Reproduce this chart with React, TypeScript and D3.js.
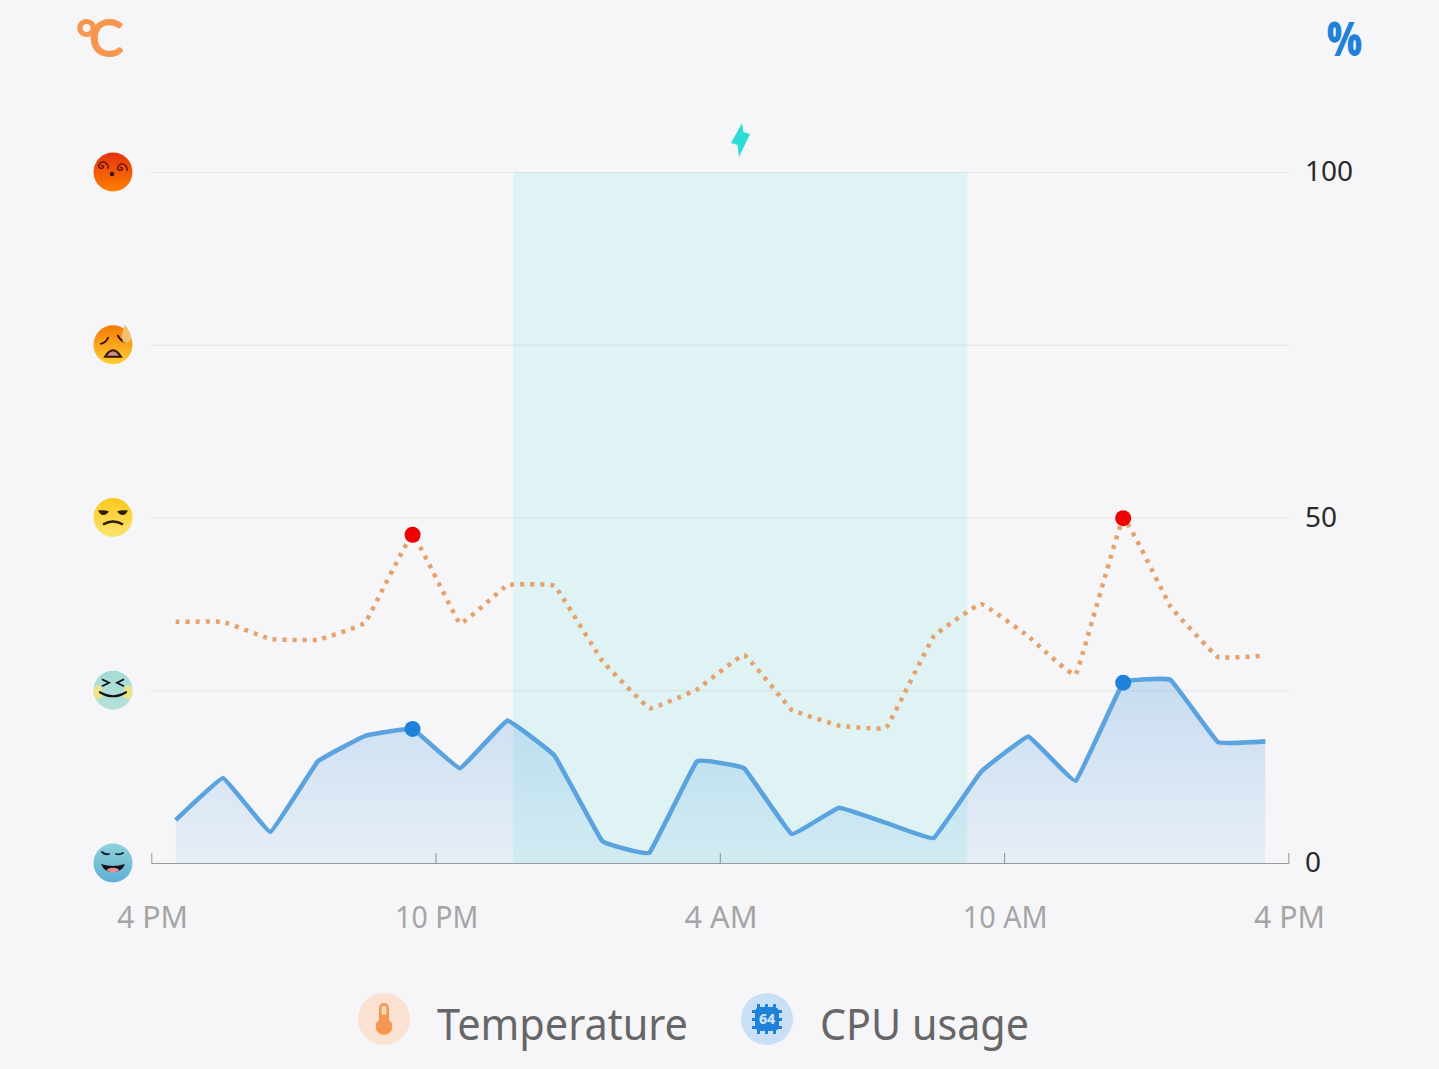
import React from "react";
import * as d3 from "d3";

const hours = [0.5,1.5,2.5,3.5,4.5,5.5,6.5,7.5,8.5,9.5,10.5,11.5,12.5,13.5,14.5,15.5,16.5,17.5,18.5,19.5,20.5,21.5,22.5,23.5];
const cpuUsage = [6.2,12.3,4.5,14.7,18.4,19.4,13.7,20.6,15.5,3.2,1.5,14.7,13.7,4.2,8.0,5.8,3.6,13.2,18.3,11.9,26.1,26.5,17.5,17.6];
const temperature = [34.9,34.9,32.4,32.3,34.8,47.5,34.7,40.2,40.1,29.3,22.4,25.1,30.1,22.2,19.9,19.6,32.8,37.5,32.8,27.3,49.9,37.1,29.8,30.0];
const markerIndices = [5, 20];
const gridValues = [25, 50, 75, 100];
const tempLevels = [0, 25, 50, 75, 100];
const xTickHours = [0, 6, 12, 18, 24];
const xTickLabels = ["4 PM", "10 PM", "4 AM", "10 AM", "4 PM"];
const rightTicks = [0, 50, 100];
const chargeWindow = [7.63, 17.21];
const legendLabels = ["Temperature", "CPU usage"];

const FONT = "'Noto Sans', sans-serif";
const BLUE = "#1f82d8";
const ORANGE = "#f6964f";

const x = d3.scaleLinear().domain([0, 24]).range([152, 1289]);
const y = d3.scaleLinear().domain([0, 100]).range([863, 172]);
const curve = d3.curveCardinal.tension(0.8);
const linePath = d3.line<number>().x((_, i) => x(hours[i])).y((d) => y(d)).curve(curve);
const areaPath = d3.area<number>().x((_, i) => x(hours[i])).y0(y(0)).y1((d) => y(d)).curve(curve);

const spiral = (a: number, b: number) =>
  `M${a} ${b} a1.5 1.5 0 0 1 2.5 1.5 a3.2 3.2 0 0 1 -5 -1 a4.6 4.6 0 0 1 5.5 -4.5 a5.8 5.8 0 0 1 4 7`;

function Emoji({ level, idx }: { level: number; idx: number }) {
  const cy = y(level);
  const cx = 113;
  const stroke = "#3a1206";
  const face = (
    [
      <g key="0">
        <path d={`M${cx - 11} ${cy - 11} q3 3 7 2 M${cx + 3} ${cy - 9} q4 1 7 -1`} stroke="#14202a" strokeWidth={1.8} fill="none" strokeLinecap="round" />
        <path d={`M${cx - 12} ${cy + 1} Q${cx} ${cy + 5} ${cx + 12} ${cy + 1} Q${cx + 9} ${cy + 9} ${cx} ${cy + 9} Q${cx - 9} ${cy + 9} ${cx - 12} ${cy + 1}Z`} fill="#101418" />
        <ellipse cx={cx} cy={cy + 7} rx={6} ry={2.2} fill="#e88f8f" />
      </g>,
      <g key="1">
        <path d={`M${cx - 11} ${cy - 11} l7 3.5 l-7 3.5 M${cx + 11} ${cy - 11} l-7 3.5 l7 3.5`} stroke="#111" strokeWidth={1.8} fill="none" />
        <path d={`M${cx - 13} ${cy + 2} Q${cx} ${cy + 10} ${cx + 13} ${cy + 2}`} stroke="#111" strokeWidth={2.2} fill="none" strokeLinecap="round" />
      </g>,
      <g key="2">
        <path d={`M${cx - 15} ${cy - 7} q7 -1 11 1 q-5 6 -9 2Z M${cx + 15} ${cy - 7} q-7 -1 -11 1 q5 6 9 2Z`} fill="#2a1c08" />
        <path d={`M${cx - 10} ${cy + 7} Q${cx} ${cy + 1} ${cx + 10} ${cy + 7}`} stroke="#2a1c08" strokeWidth={2.5} fill="none" />
      </g>,
      <g key="3">
        <path d={`M${cx - 12} ${cy - 1} q5 -1 7 -6 M${cx + 5} ${cy - 9} q3 6 8 6`} stroke={stroke} strokeWidth={2} fill="none" strokeLinecap="round" />
        <path d={`M${cx - 8} ${cy + 12} Q${cx} ${cy - 1} ${cx + 8} ${cy + 12}Z`} fill="#c79088" stroke={stroke} strokeWidth={2} />
        <path d={`M${cx + 12} ${cy - 20} q7 9 6 15 q-3 5 -8 2 q-3 -6 2 -17Z`} fill="#f2c06e" />
      </g>,
      <g key="4">
        <path d={spiral(cx - 12, cy - 6) + spiral(cx + 7, cy - 4)} stroke="#5c0c14" strokeWidth={1.3} fill="none" />
        <circle cx={cx - 1} cy={cy + 2} r={2.2} fill="#3a0808" />
      </g>,
    ] as React.ReactNode[]
  )[idx];
  return (
    <g>
      <circle cx={cx} cy={cy} r={19.5} fill={`url(#emoji${idx})`} />
      {idx === 1 && (
        <g fill="#f7e67e" opacity={0.85}>
          <ellipse cx={cx - 15} cy={cy + 2} rx={4.5} ry={7} />
          <ellipse cx={cx + 15} cy={cy + 2} rx={4.5} ry={7} />
        </g>
      )}
      {face}
    </g>
  );
}

const emojiStops: [string, string][] = [
  ["#8ed2d8", "#5eaed6"],
  ["#a4dcd8", "#b6e0d8"],
  ["#fbc81c", "#fbe470"],
  ["#f67a08", "#fdcf30"],
  ["#e4320e", "#ff8000"],
];

export default function App() {
  return (
    <svg width={1439} height={1069} style={{ position: "absolute", left: 0, top: 0, display: "block" }} fontFamily={FONT}>
      <defs>
        <linearGradient id="cpuFill" gradientUnits="userSpaceOnUse" x1={0} x2={0} y1={y(27)} y2={y(0)}>
          <stop offset="0" stopColor={BLUE} stopOpacity={0.22} />
          <stop offset="1" stopColor={BLUE} stopOpacity={0.07} />
        </linearGradient>
        {emojiStops.map((s, i) => (
          <linearGradient key={i} id={`emoji${i}`} x1={0} x2={0} y1={0} y2={1}>
            <stop offset="0" stopColor={s[0]} />
            <stop offset="1" stopColor={s[1]} />
          </linearGradient>
        ))}
      </defs>
      <rect width={1439} height={1069} fill="#f6f6f8" />

      {/* unit marks */}
      <text x={76} y={56} fontSize={51} fill={ORANGE} fontFamily="Lato" stroke={ORANGE} strokeWidth={2} strokeLinejoin="round" letterSpacing={-8}>°C</text>
      <text x={1327} y={56} fontSize={47} fill={BLUE} fontFamily="'Open Sans'" fontWeight={800} textLength={35} lengthAdjust="spacingAndGlyphs">%</text>

      {/* grid */}
      {gridValues.map((v) => (
        <line key={v} x1={151} x2={1289} y1={y(v) + 0.5} y2={y(v) + 0.5} stroke="#e3e4e7" strokeWidth={1.2} />
      ))}

      {/* charging window */}
      <rect x={x(chargeWindow[0])} width={x(chargeWindow[1]) - x(chargeWindow[0])} y={y(100)} height={y(0) - y(100)} fill="rgb(40,218,221)" fillOpacity={0.11} />
      <path d="M742 123 L731 143 L737.5 145 L739 157 L750 134 L743.5 132Z" fill="#2cdcd5" />

      {/* x axis */}
      <line x1={151.5} x2={1289.5} y1={863.5} y2={863.5} stroke="#9b9b9d" strokeWidth={1.2} />
      {xTickHours.map((h) => (
        <line key={h} x1={x(h) - 0.2} x2={x(h) - 0.2} y1={853} y2={863} stroke="#9b9b9d" strokeWidth={1.1} />
      ))}
      {xTickHours.map((h, i) => (
        <text key={h} x={x(h) + 0.5} y={928} fontSize={30.5} fill="#a5a5a7" textAnchor="middle" fontWeight={400}
          textLength={[71, 83, 73, 85, 71][i]} lengthAdjust="spacingAndGlyphs">{xTickLabels[i]}</text>
      ))}

      {/* right axis */}
      {rightTicks.map((t) => (
        <text key={t} x={1305} y={y(t) + 9} fontSize={28} fill="#2a2a2a" fontWeight={400}>{t}</text>
      ))}

      {/* left emoji axis */}
      {tempLevels.map((l, i) => <Emoji key={l} level={l} idx={i} />)}

      {/* CPU */}
      <path d={areaPath(cpuUsage) ?? ""} fill="url(#cpuFill)" />
      <path d={linePath(cpuUsage) ?? ""} fill="none" stroke="#5ba3df" strokeWidth={4.6} strokeLinejoin="round" />

      {/* Temperature */}
      <path d={linePath(temperature) ?? ""} fill="none" stroke="#e5a26c" strokeWidth={4.5} strokeDasharray="4 6" />

      {/* peak markers */}
      {markerIndices.map((m) => (
        <g key={m}>
          <circle cx={x(hours[m])} cy={y(temperature[m])} r={8} fill="#f00000" />
          <circle cx={x(hours[m])} cy={y(cpuUsage[m])} r={8} fill={BLUE} />
        </g>
      ))}

      {/* legend */}
      <circle cx={384} cy={1019} r={26} fill="#fae1d2" />
      <path d="M379 1008 a5 5 0 0 1 10 0 V1020 a8.3 8.3 0 1 1 -10 0Z" fill={ORANGE} />
      <rect x={381.5} y={1006} width={5} height={9} rx={2} fill="#fbd9bd" />
      <text x={437} y={1040} fontSize={44} fill="#666668" fontWeight={400} textLength={251} lengthAdjust="spacingAndGlyphs">{legendLabels[0]}</text>

      <circle cx={767} cy={1019} r={26} fill="#c8dff5" />
      <rect x={755} y={1007} width={24} height={24} rx={5} fill={BLUE} />
      {[-8, 0, 8].map((o) => (
        <g key={o} fill={BLUE}>
          <rect x={766 + o - 1} y={1004} width={3} height={30} />
          <rect x={752} y={1018 + o} width={30} height={3} />
        </g>
      ))}
      <text x={767} y={1024} fontSize={14} fontWeight={800} fill="#cfe3f7" textAnchor="middle">64</text>
      <text x={820} y={1040} fontSize={44} fill="#666668" fontWeight={400} textLength={209} lengthAdjust="spacingAndGlyphs">{legendLabels[1]}</text>
    </svg>
  );
}
